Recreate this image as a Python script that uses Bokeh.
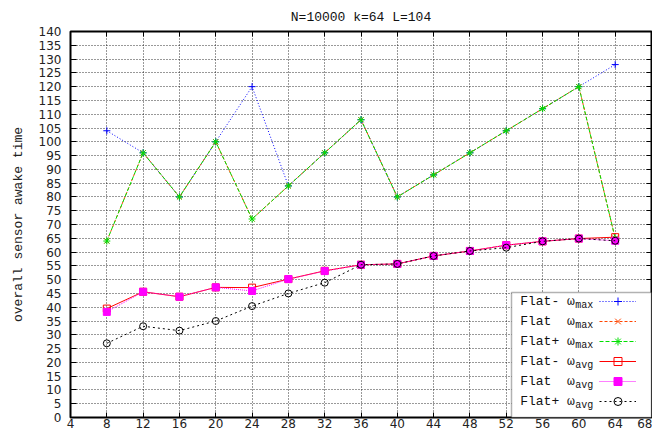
from bokeh.plotting import figure
from bokeh.models import (FixedTicker, LinearAxis, Range1d, Legend, LegendItem,
                          Label, BoxAnnotation)
from bokeh.core.properties import value
from bokeh.embed import file_html
from bokeh.resources import INLINE

# ---- data -------------------------------------------------------------
k_values = [8, 12, 16, 20, 24, 28, 32, 36, 40, 44, 48, 52, 56, 60, 64]

flat_minus_max = [104, 96, 80, 100, 120, 84, 96, 108, 80, 88, 96, 104, 112, 120, 128]
flat_max       = [64, 96, 80, 100, 72, 84, 96, 108, 80, 88, 96, 104, 112, 120, 65]
flat_plus_max  = [64, 96, 80, 100, 72, 84, 96, 108, 80, 88, 96, 104, 112, 120, 65]

flat_minus_avg = [39.5, 45.6, 43.8, 47.2, 47.1, 50.2, 53.2, 55.4, 55.7, 58.6, 60.4, 62.5, 63.9, 64.9, 65.4]
flat_avg       = [38.3, 45.6, 43.8, 47.2, 45.9, 50.2, 53.1, 55.4, 55.7, 58.6, 60.4, 62.5, 63.9, 64.9, 64.1]
flat_plus_avg  = [26.9, 33.1, 31.5, 35.0, 40.4, 45.0, 48.9, 55.4, 55.7, 58.6, 60.4, 61.6, 63.9, 64.9, 64.1]

x_ticks = list(range(4, 69, 4))
y_ticks = list(range(0, 141, 5))

NB = "\u00a0"
series_names = ["Flat-" + NB + "ω", "Flat" + NB + NB + "ω", "Flat+" + NB + "ω",
                "Flat-" + NB + "ω", "Flat" + NB + NB + "ω", "Flat+" + NB + "ω"]
series_subs = ["max", "max", "max", "avg", "avg", "avg"]

title_text = "N=10000 k=64 L=104"
y_label = "overall sensor awake time"

# ---- figure -----------------------------------------------------------
p = figure(width=652, height=432, output_backend="svg", toolbar_location=None,
           x_range=Range1d(4, 68), y_range=Range1d(0, 140),
           min_border_left=70, min_border_right=1,
           min_border_top=31, min_border_bottom=15,
           background_fill_color="white", border_fill_color="white")

p.title.text = title_text
p.title.align = "center"
p.title.text_font = "Liberation Mono"
p.title.text_font_size = "13px"
p.title.text_font_style = "normal"
p.title.text_color = "#111111"
p.title.standoff = 14

p.outline_line_color = "black"
p.outline_line_width = 2
p.outline_line_alpha = 1

xt = FixedTicker(ticks=x_ticks, minor_ticks=[])
yt = FixedTicker(ticks=y_ticks, minor_ticks=[])

p.xaxis.ticker = xt
p.yaxis.ticker = yt
for ax in p.xaxis + p.yaxis:
    ax.axis_line_color = None
    ax.major_tick_out = 0
    ax.minor_tick_in = 0
    ax.minor_tick_out = 0
    ax.major_tick_line_color = "black"
    ax.major_tick_line_width = 1
    ax.major_label_text_font = "DejaVu Sans"
    ax.major_label_text_font_size = "12px"
    ax.major_label_text_color = "#222222"
p.xaxis.major_tick_in = 5
p.yaxis.major_tick_in = 6
p.xaxis.major_label_standoff = 1
p.yaxis.major_label_standoff = 9
p.yaxis.axis_label = y_label
p.yaxis.axis_label_text_font = "Liberation Mono"
p.yaxis.axis_label_text_font_size = "13px"
p.yaxis.axis_label_text_font_style = "normal"
p.yaxis.axis_label_text_color = "#222222"
p.yaxis.axis_label_standoff = 10

# mirrored ticks (no labels drawn)
for loc, tk, tin in (("above", xt, 5), ("right", yt, 5)):
    ax = LinearAxis(ticker=tk, axis_line_color=None, major_tick_out=0, major_tick_in=tin,
                    minor_tick_in=0, minor_tick_out=0, major_label_text_font_size="1px",
                    major_label_text_color=None, major_label_text_alpha=0,
                    major_label_standoff=0, major_tick_line_color="black")
    p.add_layout(ax, loc)

p.xgrid.ticker = xt
p.ygrid.ticker = yt
for g in (p.xgrid, p.ygrid):
    g.grid_line_color = "black"
    g.grid_line_dash = "1 2"
    g.grid_line_width = 1
    g.grid_line_alpha = 0.8

# ---- series -----------------------------------------------------------
styles = [
    (flat_minus_max, "#0000ff", "1 2", "cross", None),
    (flat_max, "#ff4500", "3 2", "x", None),
    (flat_plus_max, "#00e000", "4 2", "asterisk", None),
    (flat_minus_avg, "#ff0000", "solid", "square", None),
    (flat_avg, "#ff00ff", "1 1", "square", "#ff00ff"),
    (flat_plus_avg, "#000000", "2 3", "circle", None),
]

items = []
for ys, col, dash, marker, fill in styles:
    l = p.line(k_values, ys, line_color=col, line_width=1, line_dash=dash)
    s = p.scatter(k_values, ys, marker=marker, size=7, line_color=col, line_width=1,
                  fill_color=fill, fill_alpha=1 if fill else 0)
    items.append(LegendItem(label=value(" "), renderers=[l, s]))

# ---- legend (frame-relative screen units) ------------------------------
box_w, box_h = 140, 125
frame_w = 652 - 70 - 1
box_left = frame_w - box_w
box = BoxAnnotation(left=box_left, right=frame_w, bottom=0, top=box_h,
                    left_units="screen", right_units="screen",
                    bottom_units="screen", top_units="screen",
                    fill_color="white", fill_alpha=1,
                    line_color="black", line_width=1.5)
p.add_layout(box)

leg_y, row_h = 6, 20
legend = Legend(items=items, location=(box_left + 88, leg_y), orientation="vertical",
                glyph_width=37, glyph_height=row_h, label_height=row_h, label_width=0,
                label_standoff=0, spacing=0, padding=0, margin=0,
                border_line_alpha=0, background_fill_alpha=0,
                label_text_font_size="1px")
p.add_layout(legend)

n = len(series_names)
for i, (name, sub) in enumerate(zip(series_names, series_subs)):
    cy = leg_y + row_h / 2 + row_h * (n - 1 - i)
    p.add_layout(Label(x=box_left + 8.7, y=cy, x_units="screen", y_units="screen", text=name,
                       text_font="Liberation Mono", text_font_size="13px",
                       text_baseline="middle", text_align="left", text_color="#111111"))
    p.add_layout(Label(x=box_left + 63.8, y=cy - 4, x_units="screen", y_units="screen", text=sub,
                       text_font="Liberation Mono", text_font_size="10px",
                       text_baseline="middle", text_align="left", text_color="#111111"))

open("out.html", "w").write(file_html(p, INLINE))
